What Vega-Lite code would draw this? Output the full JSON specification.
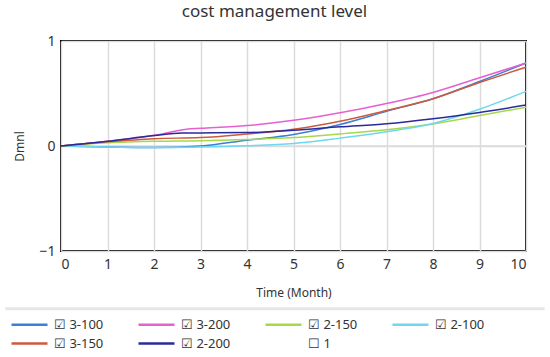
{
  "$schema": "https://vega.github.io/schema/vega-lite/v6.json",
  "autosize": {"type": "none"},
  "width": 465,
  "height": 210,
  "padding": {"left": 61, "top": 41, "right": 24, "bottom": 106},
  "background": "white",
  "config": {
    "view": {"stroke": "black", "strokeWidth": 2},
    "font": "Noto Sans"
  },
  "title": {
    "text": "cost management level",
    "fontSize": 17,
    "fontWeight": "normal",
    "color": "#333",
    "offset": 13,
    "dx": -19
  },
  "data": {
    "values": [
      {"series": "3-100", "t": 0, "v": 0},
      {"series": "3-100", "t": 1, "v": -0.01},
      {"series": "3-100", "t": 2, "v": -0.015},
      {"series": "3-100", "t": 3, "v": 0.0},
      {"series": "3-100", "t": 4, "v": 0.055},
      {"series": "3-100", "t": 5, "v": 0.11},
      {"series": "3-100", "t": 6, "v": 0.205},
      {"series": "3-100", "t": 7, "v": 0.33},
      {"series": "3-100", "t": 8, "v": 0.45},
      {"series": "3-100", "t": 9, "v": 0.615},
      {"series": "3-100", "t": 10, "v": 0.79},
      {"series": "3-200", "t": 0, "v": 0},
      {"series": "3-200", "t": 1, "v": 0.045},
      {"series": "3-200", "t": 2, "v": 0.1},
      {"series": "3-200", "t": 2.7, "v": 0.16},
      {"series": "3-200", "t": 3, "v": 0.168},
      {"series": "3-200", "t": 4, "v": 0.195},
      {"series": "3-200", "t": 5, "v": 0.245},
      {"series": "3-200", "t": 6, "v": 0.316},
      {"series": "3-200", "t": 7, "v": 0.405},
      {"series": "3-200", "t": 8, "v": 0.51},
      {"series": "3-200", "t": 9, "v": 0.65},
      {"series": "3-200", "t": 10, "v": 0.79},
      {"series": "2-150", "t": 0, "v": 0},
      {"series": "2-150", "t": 1, "v": 0.03},
      {"series": "2-150", "t": 2, "v": 0.045},
      {"series": "2-150", "t": 3, "v": 0.05},
      {"series": "2-150", "t": 4, "v": 0.062},
      {"series": "2-150", "t": 5, "v": 0.08},
      {"series": "2-150", "t": 6, "v": 0.115},
      {"series": "2-150", "t": 7, "v": 0.155},
      {"series": "2-150", "t": 8, "v": 0.21},
      {"series": "2-150", "t": 9, "v": 0.29},
      {"series": "2-150", "t": 10, "v": 0.37},
      {"series": "2-100", "t": 0, "v": 0},
      {"series": "2-100", "t": 1, "v": -0.01},
      {"series": "2-100", "t": 2, "v": -0.015},
      {"series": "2-100", "t": 3, "v": -0.01},
      {"series": "2-100", "t": 4, "v": 0.002},
      {"series": "2-100", "t": 5, "v": 0.024},
      {"series": "2-100", "t": 6, "v": 0.075},
      {"series": "2-100", "t": 7, "v": 0.135},
      {"series": "2-100", "t": 8, "v": 0.215},
      {"series": "2-100", "t": 9, "v": 0.35},
      {"series": "2-100", "t": 10, "v": 0.52},
      {"series": "3-150", "t": 0, "v": 0},
      {"series": "3-150", "t": 1, "v": 0.04},
      {"series": "3-150", "t": 2, "v": 0.07},
      {"series": "3-150", "t": 3, "v": 0.08},
      {"series": "3-150", "t": 4, "v": 0.115},
      {"series": "3-150", "t": 5, "v": 0.16},
      {"series": "3-150", "t": 6, "v": 0.236},
      {"series": "3-150", "t": 7, "v": 0.338},
      {"series": "3-150", "t": 8, "v": 0.45},
      {"series": "3-150", "t": 9, "v": 0.605},
      {"series": "3-150", "t": 10, "v": 0.75},
      {"series": "2-200", "t": 0, "v": 0},
      {"series": "2-200", "t": 1, "v": 0.045},
      {"series": "2-200", "t": 2, "v": 0.1},
      {"series": "2-200", "t": 2.6, "v": 0.124},
      {"series": "2-200", "t": 3, "v": 0.125},
      {"series": "2-200", "t": 4, "v": 0.128},
      {"series": "2-200", "t": 5, "v": 0.15},
      {"series": "2-200", "t": 6, "v": 0.183},
      {"series": "2-200", "t": 7, "v": 0.212},
      {"series": "2-200", "t": 8, "v": 0.26},
      {"series": "2-200", "t": 9, "v": 0.32},
      {"series": "2-200", "t": 10, "v": 0.39}
    ]
  },
  "layer": [
    {
      "data": {"values": [{"x1": -1.2, "x2": 10.4, "y": -1.55}]},
      "mark": {"type": "rule", "color": "#e6e6e6", "strokeWidth": 3, "clip": false},
      "encoding": {
        "x": {"field": "x1", "type": "quantitative"},
        "x2": {"field": "x2"},
        "y": {"field": "y", "type": "quantitative"}
      }
    },
    {
      "data": {"values": [{"y": 0}]},
      "mark": {"type": "rule", "color": "#dcdcdc", "strokeWidth": 1.5},
      "encoding": {
        "y": {"field": "y", "type": "quantitative"}
      }
    },
    {
      "mark": {"type": "line", "interpolate": "monotone", "strokeWidth": 1.5},
      "encoding": {
        "x": {
          "field": "t",
          "type": "quantitative",
          "scale": {"domain": [0, 10], "nice": false},
          "axis": {
            "values": [0, 1, 2, 3, 4, 5, 6, 7, 8, 9, 10],
            "title": "Time (Month)",
            "titleFontSize": 12,
            "titleFontWeight": "normal",
            "titleColor": "#333",
            "titlePadding": 16,
            "labelFontSize": 14,
            "labelColor": "#333",
            "labelPadding": 6,
            "domain": false,
            "ticks": false,
            "grid": true,
            "gridColor": "#dcdcdc",
            "gridWidth": 1.5
          }
        },
        "y": {
          "field": "v",
          "type": "quantitative",
          "scale": {"domain": [-1, 1], "nice": false},
          "axis": {
            "values": [-1, 0, 1],
            "labelExpr": "datum.value < 0 ? '−1' : (datum.value > 0 ? '1' : '0')",
            "labelOverlap": false,
            "title": "Dmnl",
            "titleFontSize": 12,
            "titleFontWeight": "normal",
            "titleColor": "#333",
            "titlePadding": 12,
            "labelFontSize": 14,
            "labelColor": "#333",
            "labelPadding": 6,
            "domain": false,
            "ticks": false,
            "grid": true,
            "gridColor": "#dcdcdc",
            "gridWidth": 1.5
          }
        },
        "color": {
          "field": "series",
          "type": "nominal",
          "scale": {
            "domain": ["3-100", "3-200", "2-150", "2-100", "3-150", "2-200", "1"],
            "range": ["#3b7fd8", "#e85fd0", "#a6d84a", "#6dd8ef", "#cc5a3c", "#2a2a9a", "rgba(0,0,0,0)"]
          },
          "legend": {
            "orient": "none",
            "legendX": -51,
            "legendY": 276,
            "direction": "horizontal",
            "columns": 4,
            "title": null,
            "symbolType": "M-1,0H5",
            "symbolSize": 144,
            "symbolStrokeWidth": 2.5,
            "labelFontSize": 13,
            "labelColor": "#333",
            "labelOffset": 29,
            "columnPadding": 29,
            "rowPadding": 4,
            "gridAlign": "all",
            "labelExpr": "datum.label == '1' ? '☐ 1' : '☑ ' + datum.label"
          }
        }
      }
    }
  ]
}
